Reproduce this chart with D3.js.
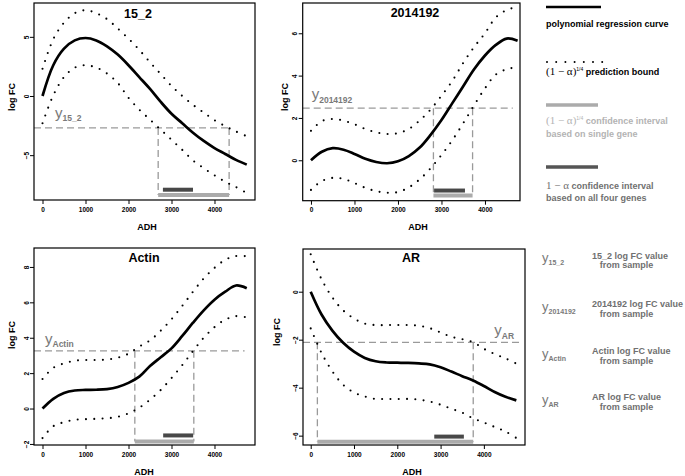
<!DOCTYPE html>
<html><head><meta charset="utf-8">
<script src="https://cdn.jsdelivr.net/npm/d3@7"></script>
<style>
body{margin:0;background:#fff;}
svg{display:block;font-family:"Liberation Sans",Arial,sans-serif;}
</style></head>
<body><svg id="c" width="685" height="476"></svg>
<script>
// ---------- data ----------
const adh = [0,250,500,750,1000,1250,1500,1750,2000,2250,2500,2750,3000,3250,3500,3750,4000,4250,4500,4750];
const genes = ["15_2","2014192","Actin","AR"];
const xTicks = [0,1000,2000,3000,4000];

const fit_15_2   = [0,2.6,4.0,4.7,4.9,4.7,4.2,3.5,2.6,1.6,0.6,-0.5,-1.5,-2.3,-3.1,-3.8,-4.4,-4.9,-5.4,-5.8];
const upper_15_2 = [2.3,4.8,6.2,7.0,7.25,7.0,6.5,5.7,4.85,3.9,2.85,1.85,0.85,0.0,-0.75,-1.4,-2.05,-2.55,-3.0,-3.4];
const lower_15_2 = [-2.3,0.05,1.6,2.4,2.6,2.4,1.9,1.1,-0.15,-1.15,-2.0,-2.85,-3.7,-4.55,-5.45,-6.1,-6.7,-7.25,-7.7,-8.2];

const fit_2014192   = [0,0.4,0.57,0.5,0.3,0.07,-0.08,-0.14,-0.05,0.2,0.6,1.2,1.9,2.7,3.5,4.3,4.95,5.45,5.75,5.65];
const upper_2014192 = [1.39,1.85,1.95,1.87,1.7,1.48,1.32,1.24,1.28,1.48,1.88,2.4,3.05,3.75,4.6,5.35,6.0,6.75,7.1,7.25];
const lower_2014192 = [-1.4,-0.98,-0.83,-0.88,-1.08,-1.3,-1.46,-1.53,-1.5,-1.28,-0.9,-0.38,0.25,0.95,1.75,2.6,3.4,4.05,4.3,4.4];

const fit_Actin   = [0,0.55,0.88,1.02,1.05,1.06,1.1,1.22,1.45,1.8,2.4,2.9,3.4,4.1,4.85,5.55,6.15,6.6,6.95,6.8];
const upper_Actin = [1.67,2.3,2.55,2.7,2.74,2.74,2.77,2.87,3.1,3.5,3.85,4.4,5.05,5.8,6.6,7.35,7.95,8.4,8.62,8.6];
const lower_Actin = [-1.67,-1.0,-0.77,-0.64,-0.6,-0.58,-0.55,-0.47,-0.27,0.05,0.5,1.05,1.72,2.45,3.25,4.0,4.6,5.02,5.22,5.15];

const fit_AR   = [0,-0.95,-1.62,-2.13,-2.5,-2.76,-2.9,-2.95,-2.96,-2.97,-2.99,-3.03,-3.15,-3.33,-3.52,-3.7,-3.93,-4.18,-4.38,-4.53];
const upper_AR = [1.56,0.52,-0.24,-0.78,-1.12,-1.33,-1.39,-1.39,-1.39,-1.39,-1.42,-1.52,-1.7,-1.88,-1.98,-2.1,-2.38,-2.6,-2.78,-3.0];
const lower_AR = [-1.53,-2.55,-3.32,-3.88,-4.2,-4.37,-4.47,-4.47,-4.47,-4.47,-4.5,-4.58,-4.71,-4.88,-5.04,-5.28,-5.45,-5.64,-5.83,-6.1];

const sampleValue = [-2.7, 2.46, 3.26, -2.11];           // y_gene
const singleGeneCI = [[2690,4340],[2815,3715],[2147,3519],[154,3754]];
const allGenesCI   = [[2800,3500],[2830,3540],[2806,3504],[2854,3538]];
const sampleLineEnd = [4360, 4640, 4700, 4830];
const yTicks = [[-5,0,5],[0,2,4,6],[-2,0,2,4,6,8],[-6,-4,-2,0]];

const fits = [fit_15_2, fit_2014192, fit_Actin, fit_AR];
const uppers = [upper_15_2, upper_2014192, upper_Actin, upper_AR];
const lowers = [lower_15_2, lower_2014192, lower_Actin, lower_AR];

// ---------- layout ----------
const panels = [
  {box:[34,3,255,200],   xd:[-198,4942], yd:[-8.79,7.86], title:[138,18], ylab:[12,97], xlab:[147,230],
   lab:{x:55,y:117.5}, barSingle:-8.37, barAll:-7.92},
  {box:[302.7,3,520,200.7], xd:[-190,4805], yd:[-1.91,7.43], title:[415,17], ylab:[285,97], xlab:[418,230],
   lab:{x:311.7,y:99}, barSingle:-1.67, barAll:-1.43},
  {box:[34,248,255,445], xd:[-198,4942], yd:[-2.06,9.07], title:[144,262], ylab:[12,335], xlab:[144,475],
   lab:{x:45,y:343.5}, barSingle:-1.86, barAll:-1.52},
  {box:[303,249,525,445], xd:[-178,4950], yd:[-6.39,1.78], title:[411,262], ylab:[277,332], xlab:[412,475],
   lab:{x:494.3,y:335}, barSingle:-6.25, barAll:-6.04}
];

const svg = d3.select("#c");
const grayDash = "#9a9a9a", lightBar = "#ababab", darkBar = "#484848";

panels.forEach((p, i) => {
  const [l,t,r,b] = p.box;
  const x = d3.scaleLinear().domain(p.xd).range([l,r]);
  const y = d3.scaleLinear().domain(p.yd).range([b,t]);
  const g = svg.append("g");
  const line = d3.line().x((d,k)=>x(adh[k])).y(d=>y(d)).curve(d3.curveCatmullRom.alpha(0.5));

  const sv = sampleValue[i];
  g.append("line").attr("x1",l).attr("x2",x(sampleLineEnd[i])).attr("y1",y(sv)).attr("y2",y(sv))
    .attr("stroke",grayDash).attr("stroke-width",1.3).attr("stroke-dasharray","7,4");
  singleGeneCI[i].forEach(v => {
    g.append("line").attr("x1",x(v)).attr("x2",x(v)).attr("y1",y(sv)).attr("y2",y(p.barSingle))
      .attr("stroke",grayDash).attr("stroke-width",1.3).attr("stroke-dasharray","7,4");
  });
  g.append("line").attr("x1",x(singleGeneCI[i][0])).attr("x2",x(singleGeneCI[i][1]))
    .attr("y1",y(p.barSingle)).attr("y2",y(p.barSingle)).attr("stroke",lightBar).attr("stroke-width",4);
  g.append("line").attr("x1",x(allGenesCI[i][0])).attr("x2",x(allGenesCI[i][1]))
    .attr("y1",y(p.barAll)).attr("y2",y(p.barAll)).attr("stroke",darkBar).attr("stroke-width",4);

  [uppers[i], lowers[i]].forEach(arr => {
    g.append("path").attr("d",line(arr)).attr("fill","none").attr("stroke","#000")
      .attr("stroke-width",2.1).attr("stroke-linecap","round").attr("stroke-dasharray","0,8.3");
  });
  g.append("path").attr("d",line(fits[i])).attr("fill","none").attr("stroke","#000").attr("stroke-width",2.7);

  g.append("rect").attr("x",l).attr("y",t).attr("width",r-l).attr("height",b-t)
    .attr("fill","none").attr("stroke","#000").attr("stroke-width",1.2);

  const ax = g.append("g").attr("transform",`translate(0,${b})`)
    .call(d3.axisBottom(x).tickValues(xTicks).tickSize(4).tickPadding(3).tickFormat(d3.format("d")));
  ax.select(".domain").remove();
  ax.selectAll("text").attr("font-size",6.5).attr("font-weight","bold").attr("font-family","Liberation Sans, Arial");
  const ay = g.append("g").attr("transform",`translate(${l},0)`)
    .call(d3.axisLeft(y).tickValues(yTicks[i]).tickSize(4).tickFormat(d3.format("d")));
  ay.select(".domain").remove();
  ay.selectAll("text").attr("x",null).attr("dy",null).attr("text-anchor","middle")
    .attr("transform","translate(-5.3,0) rotate(-90)")
    .attr("font-size",6.5).attr("font-weight","bold").attr("font-family","Liberation Sans, Arial");

  g.append("text").attr("x",p.title[0]).attr("y",p.title[1]).attr("text-anchor","middle")
    .attr("font-size",12.5).attr("font-weight","bold").text(genes[i]);
  g.append("text").attr("transform",`translate(${p.ylab[0]+3},${p.ylab[1]}) rotate(-90)`)
    .attr("text-anchor","middle").attr("font-size",9).attr("font-weight","bold").text("log FC");
  g.append("text").attr("x",p.xlab[0]).attr("y",p.xlab[1]).attr("text-anchor","middle")
    .attr("font-size",9).attr("font-weight","bold").text("ADH");

  const lt = g.append("text").attr("x",p.lab.x).attr("y",p.lab.y).attr("fill","#7a7a7a");
  lt.append("tspan").attr("font-size",15).text("y");
  lt.append("tspan").attr("font-size",8.5).attr("font-weight","bold").attr("dy",3.5).text(genes[i]);
});

// ---------- legend ----------
const L = svg.append("g");
const lx = 546, fs = 9;
L.append("line").attr("x1",lx).attr("x2",601).attr("y1",7).attr("y2",7).attr("stroke","#000").attr("stroke-width",2.5);
L.append("text").attr("x",lx).attr("y",27).attr("font-size",fs).attr("font-weight","bold").text("polynomial regression curve");

L.append("line").attr("x1",lx+1).attr("x2",603).attr("y1",62).attr("y2",62).attr("stroke","#000")
  .attr("stroke-width",2).attr("stroke-linecap","round").attr("stroke-dasharray","0,9.2");
function alphaText(sel, color, rest){
  const t = sel.append("text").attr("x",lx).attr("fill",color).attr("font-size",fs);
  t.append("tspan").attr("font-family","Liberation Serif, serif").attr("font-size",11).text("(1 − α)");
  t.append("tspan").attr("font-size",5).attr("dy",-4).text("1/4");
  t.append("tspan").attr("font-weight","bold").attr("dy",4).text(" " + rest);
  return t;
}
alphaText(L,"#000","prediction bound").attr("y",74.5);

L.append("line").attr("x1",lx).attr("x2",598).attr("y1",105).attr("y2",105).attr("stroke",lightBar).attr("stroke-width",3.5);
alphaText(L,"#b3b3b3","confidence interval").attr("y",123.5);
L.append("text").attr("x",lx).attr("y",136.5).attr("fill","#b3b3b3").attr("font-size",fs).attr("font-weight","bold").text("based on single gene");

L.append("line").attr("x1",lx).attr("x2",598).attr("y1",167).attr("y2",167).attr("stroke","#555").attr("stroke-width",3.5);
const t4 = L.append("text").attr("x",lx).attr("y",188.5).attr("fill","#707070").attr("font-size",fs);
t4.append("tspan").attr("font-family","Liberation Serif, serif").attr("font-size",11).text("1 − α");
t4.append("tspan").attr("font-weight","bold").text(" confidence interval");
L.append("text").attr("x",lx).attr("y",200.5).attr("fill","#707070").attr("font-size",fs).attr("font-weight","bold").text("based on all four genes");

const legY = [262, 311, 358, 404];
const legL1 = [258.5, 307, 354, 400];
genes.forEach((gname, i) => {
  const t = L.append("text").attr("x",542).attr("y",legY[i]).attr("fill","#7a7a7a");
  t.append("tspan").attr("font-size",13).text("y");
  t.append("tspan").attr("font-size",7).attr("font-weight","bold").attr("dy",2.5).text(gname);
  L.append("text").attr("x",592).attr("y",legL1[i]).attr("fill","#707070").attr("font-size",fs)
    .attr("font-weight","bold").text(gname + " log FC value");
  L.append("text").attr("x",626.5).attr("y",legL1[i]+9.5).attr("text-anchor","middle").attr("fill","#707070")
    .attr("font-size",fs).attr("font-weight","bold").text("from sample");
});
</script></body></html>
